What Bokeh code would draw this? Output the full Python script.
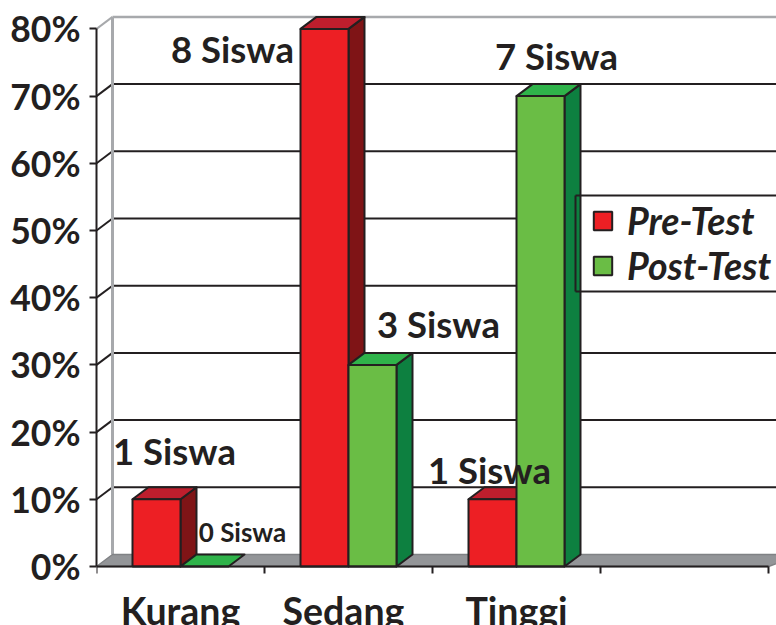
from bokeh.plotting import figure
from bokeh.models import Range1d, LinearAxis, FixedTicker, ColumnDataSource, Legend, LegendItem
from bokeh.core.properties import value, field
from bokeh.embed import file_html
from bokeh.resources import INLINE

categories = ["Kurang", "Sedang", "Tinggi"]
category_ticks = [0.5, 1.47, 2.5]
pre_test = [10, 80, 10]
post_test = [0, 30, 70]
pre_labels = ["1 Siswa", "8 Siswa", "1 Siswa"]
post_labels = ["0 Siswa", "3 Siswa", "7 Siswa"]
y_ticks = [0, 10, 20, 30, 40, 50, 60, 70, 80]

INK = "#231f20"
FONT = "Lato"
RED, RED_TOP, RED_SIDE = "#ed1f24", "#be1e2d", "#7f1416"
GRN, GRN_TOP, GRN_SIDE = "#6abd45", "#2fb34a", "#0d8040"

PX_X = 168.0   # pixels per category
PX_Y = 6.72    # pixels per percent
DX = 16 / PX_X  # 3D depth
DY = 12 / PX_Y
BAR = 48 / PX_X
GAP = 36 / PX_X
W, H = 776, 625
LEFT, ZERO_Y = 96, 566

p = figure(width=W, height=H, output_backend="svg", toolbar_location=None,
           x_range=Range1d(0, (W - LEFT) / PX_X),
           y_range=Range1d(-(H - ZERO_Y) / PX_Y, ZERO_Y / PX_Y),
           x_axis_type=None, y_axis_type=None,
           min_border_left=LEFT, min_border_bottom=0, min_border_top=0, min_border_right=0)
p.outline_line_color = None
p.grid.visible = False
p.background_fill_color = "white"

# axes
ya = LinearAxis(ticker=FixedTicker(ticks=y_ticks), bounds=(0, 80))
ya.major_label_overrides = {t: f"{t}%" for t in y_ticks}
ya.major_label_text_font = FONT
ya.major_label_text_font_style = "bold"
ya.major_label_text_font_size = "35.5px"
ya.major_label_text_color = INK
ya.major_label_standoff = 9
ya.major_tick_in = 0
ya.major_tick_out = 7
ya.minor_tick_line_color = None
ya.axis_line_color = INK
ya.axis_line_width = 2
ya.major_tick_line_color = INK
ya.major_tick_line_width = 2
p.add_layout(ya, "left")

n_slots = 4
xa = LinearAxis(ticker=FixedTicker(ticks=category_ticks, minor_ticks=list(range(n_slots + 1))),
                fixed_location=0, bounds=(0, n_slots))
xa.major_label_overrides = dict(zip(category_ticks, categories))
xa.major_label_text_font = FONT
xa.major_label_text_font_style = "bold"
xa.major_label_text_font_size = "37.5px"
xa.major_label_text_color = INK
xa.major_label_standoff = 14
xa.major_tick_in = 0
xa.major_tick_out = 0
xa.minor_tick_in = 0
xa.minor_tick_out = 7
xa.minor_tick_line_color = INK
xa.minor_tick_line_width = 2
xa.axis_line_color = INK
xa.axis_line_width = 2

x_end = n_slots + 2 * DX

# back-wall gridlines and their slanted wall parts
inner = [t for t in y_ticks if t not in (0, 80)]
p.segment(x0=[DX] * len(inner), x1=[x_end] * len(inner),
          y0=[t + DY for t in inner], y1=[t + DY for t in inner],
          line_color=INK, line_width=2)
p.segment(x0=[0] * len(inner), x1=[DX] * len(inner),
          y0=inner, y1=[t + DY for t in inner], line_color=INK, line_width=2)
# top edge of the wall
p.segment(x0=[DX], x1=[x_end], y0=[80 + DY], y1=[80 + DY], line_color="#a7a9ac", line_width=2.5)
p.segment(x0=[0], x1=[DX], y0=[80], y1=[80 + DY], line_color="#a7a9ac", line_width=2)
# left wall edge
p.segment(x0=[DX], x1=[DX], y0=[DY], y1=[80 + DY], line_color="#a7a9ac", line_width=3)

# floor
p.patch(x=[0, DX, x_end, n_slots], y=[0, DY, DY, 0],
        fill_color="#939598", line_color="#808285", line_width=1.5)

# legend backing
box_x0, box_x1 = (575 - LEFT) / PX_X, x_end
box_y0, box_y1 = (ZERO_Y - 291) / PX_Y, (ZERO_Y - 195) / PX_Y
p.quad(left=[box_x0], right=[box_x1], bottom=[box_y0], top=[box_y1],
       fill_color="white", line_color=None)


def bars(values, start, front, top, side):
    left = [i + GAP + start for i in range(len(values))]
    right = [x + BAR for x in left]
    visible = [i for i, v in enumerate(values) if v > 0]
    p.patches(xs=[[right[i], right[i] + DX, right[i] + DX, right[i]] for i in visible],
              ys=[[0, DY, values[i] + DY, values[i]] for i in visible],
              fill_color=side, line_color=INK, line_width=2, line_join="round")
    p.patches(xs=[[left[i], left[i] + DX, right[i] + DX, right[i]] for i in range(len(values))],
              ys=[[values[i], values[i] + DY, values[i] + DY, values[i]] for i in range(len(values))],
              fill_color=top, line_color=INK, line_width=2, line_join="round")
    return p.quad(left=[left[i] for i in visible], right=[right[i] for i in visible],
                  top=[values[i] for i in visible], bottom=[0] * len(visible),
                  fill_color=front, line_color=INK, line_width=2)


r_pre = bars(pre_test, 0, RED, RED_TOP, RED_SIDE)
r_post = bars(post_test, BAR, GRN, GRN_TOP, GRN_SIDE)

p.add_layout(xa, "below")

# legend frame, drawn over the bar side
p.segment(x0=[box_x0, box_x0, box_x0], x1=[box_x1, box_x1, box_x0],
          y0=[box_y0, box_y1, box_y0], y1=[box_y0, box_y1, box_y1],
          line_color=INK, line_width=2, level="overlay")

# data labels
lab = ColumnDataSource(dict(
    x=[i + GAP + BAR / 2 for i in range(3)] + [i + GAP + 1.5 * BAR for i in range(3)],
    y=pre_test + post_test,
    text=pre_labels + post_labels,
    dx=[18, -92, -3, 38, 66, 16],
    dy=[-48, 20, -29, -35, -41, -40],
    size=["36.5px", "36.5px", "36.5px", "26px", "36.5px", "36.5px"],
))
p.text(x="x", y="y", text="text", x_offset="dx", y_offset="dy", source=lab,
       text_font=value(FONT), text_font_style="bold", text_font_size=field("size"),
       text_color=INK, text_align="center", text_baseline="alphabetic")

legend = Legend(items=[LegendItem(label="Pre-Test", renderers=[r_pre]),
                       LegendItem(label="Post-Test", renderers=[r_post])],
                location=(495, 337), orientation="vertical",
                background_fill_alpha=0, border_line_color=None,
                label_text_font=FONT, label_text_font_style="bold italic",
                label_text_font_size="37.5px", label_text_color=INK,
                glyph_width=23, glyph_height=23, label_standoff=13,
                padding=4, spacing=-5, margin=0)
p.add_layout(legend, "center")

open("out.html", "w").write(file_html(p, INLINE))
